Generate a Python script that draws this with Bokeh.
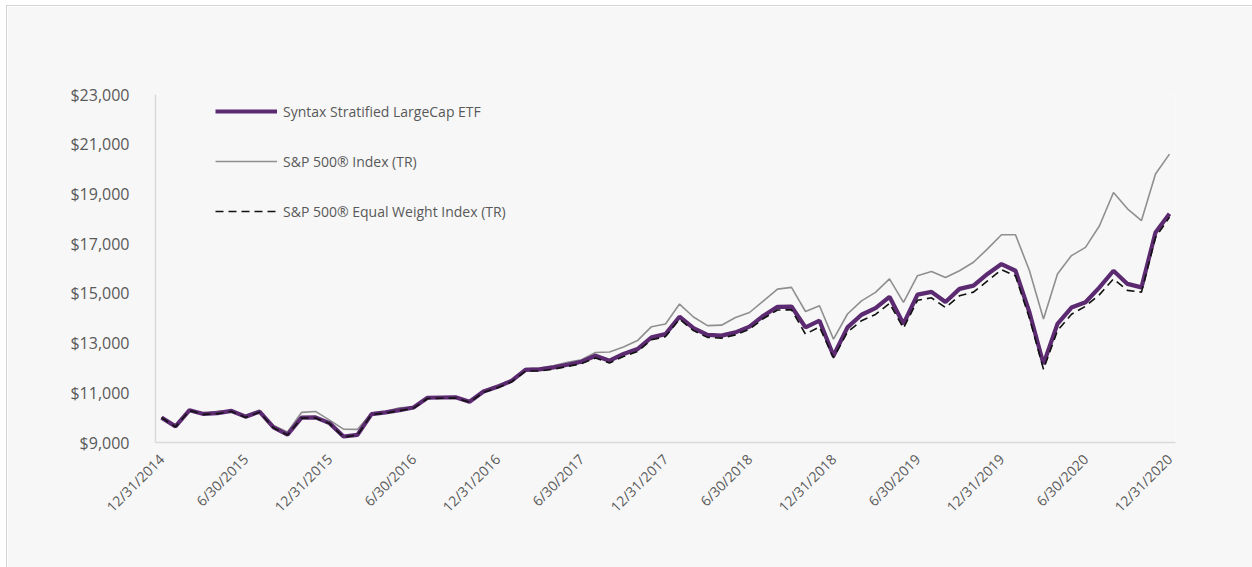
from math import pi
from bokeh.plotting import figure
from bokeh.models import Range1d, FixedTicker, NumeralTickFormatter, Legend, LegendItem
from bokeh.embed import file_html
from bokeh.resources import INLINE

tick_labels = ["12/31/2014", "6/30/2015", "12/31/2015", "6/30/2016", "12/31/2016",
               "6/30/2017", "12/31/2017", "6/30/2018", "12/31/2018", "6/30/2019",
               "12/31/2019", "6/30/2020", "12/31/2020"]

etf = [10000, 9650, 10300, 10150, 10180, 10270, 10040, 10240, 9610, 9320,
       10000, 10010, 9780, 9240, 9310, 10140, 10210, 10300, 10410, 10800,
       10810, 10820, 10640, 11050, 11240, 11480, 11920, 11940, 12020, 12130,
       12250, 12490, 12290, 12560, 12760, 13230, 13360, 14060, 13600, 13330,
       13300, 13430, 13660, 14100, 14460, 14470, 13630, 13900, 12490, 13630,
       14140, 14410, 14860, 13770, 14950, 15060, 14650, 15180, 15310, 15780,
       16180, 15910, 14230, 12160, 13770, 14430, 14640, 15240, 15910, 15380,
       15240, 17450, 18200]

sp500 = [10000, 9700, 10270, 10170, 10260, 10290, 10100, 10300, 9680, 9420,
         10210, 10250, 9900, 9540, 9530, 10180, 10250, 10400, 10430, 10820,
         10830, 10850, 10650, 11080, 11300, 11520, 11980, 12000, 12090, 12230,
         12330, 12620, 12640, 12840, 13100, 13660, 13770, 14570, 14050, 13700,
         13720, 14030, 14230, 14700, 15170, 15240, 14270, 14500, 13160, 14170,
         14700, 15040, 15580, 14640, 15710, 15880, 15640, 15910, 16250, 16790,
         17360, 17360, 15910, 13970, 15780, 16520, 16850, 17720, 19060, 18400,
         17930, 19800, 20600]

equal_weight = [10000, 9630, 10290, 10130, 10160, 10250, 10010, 10220, 9590, 9300,
                9980, 9990, 9760, 9220, 9300, 10120, 10190, 10280, 10380, 10770,
                10780, 10790, 10620, 11020, 11200, 11440, 11870, 11880, 11950, 12060,
                12170, 12400, 12200, 12460, 12660, 13130, 13260, 13960, 13500, 13230,
                13200, 13330, 13560, 13990, 14330, 14340, 13360, 13650, 12400, 13450,
                13900, 14150, 14600, 13600, 14720, 14820, 14430, 14900, 15050, 15500,
                15950, 15700, 14000, 11950, 13500, 14160, 14480, 14950, 15580, 15120,
                15050, 17250, 18060]

y_ticks = [9000, 11000, 13000, 15000, 17000, 19000, 21000, 23000]

months = list(range(len(etf)))
label_ticks = list(range(0, len(etf), 6))

BG = "#f7f7f7"
FONT = "Open Sans"
TXT = "#595959"

p = figure(width=1245, height=561, output_backend="svg", toolbar_location=None,
           x_range=Range1d(-0.43, 72.43), y_range=Range1d(9000, 23000),
           min_border_left=148, min_border_right=77, min_border_top=88,
           min_border_bottom=125, background_fill_color=BG, border_fill_color=BG)
p.outline_line_color = None
p.xgrid.visible = False
p.ygrid.visible = False

r_sp = p.line(months, sp500, line_color="#8f8f8f", line_width=1.6)
r_etf = p.line(months, etf, line_color="#5b2a70", line_width=4.2)
r_ew = p.line(months, equal_weight, line_color="#111111", line_width=1.6, line_dash="8 5")

p.xaxis.ticker = FixedTicker(ticks=label_ticks)
p.xaxis.major_label_overrides = {t: lab for t, lab in zip(label_ticks, tick_labels)}
p.xaxis.major_label_orientation = pi / 4
p.yaxis.ticker = FixedTicker(ticks=y_ticks)
p.yaxis.formatter = NumeralTickFormatter(format="$0,0")

for ax in (p.xaxis[0], p.yaxis[0]):
    ax.axis_line_color = "#d9d9d9"
    ax.axis_line_width = 1.5
    ax.major_tick_line_color = None
    ax.minor_tick_line_color = None
    ax.major_label_text_font = FONT
    ax.major_label_text_color = TXT
p.xaxis.major_label_text_font_size = "14px"
p.xaxis.major_label_standoff = 8
p.yaxis.major_label_text_font_size = "16px"
p.yaxis.major_label_standoff = 20

legend = Legend(items=[
    LegendItem(label="Syntax Stratified LargeCap ETF", renderers=[r_etf]),
    LegendItem(label="S&P 500® Index (TR)", renderers=[r_sp]),
    LegendItem(label="S&P 500® Equal Weight Index (TR)", renderers=[r_ew]),
], location=(60, 221))
legend.label_text_font = FONT
legend.label_text_font_size = "14px"
legend.label_text_color = TXT
legend.glyph_width = 62
legend.glyph_height = 20
legend.label_height = 20
legend.spacing = 30
legend.padding = 0
legend.margin = 0
legend.label_standoff = 6
legend.background_fill_alpha = 0
legend.border_line_color = None
p.add_layout(legend)

p.styles = {"margin-left": "7px", "margin-top": "6px", "outline": "1px solid #d4d4d4"}

open("out.html", "w").write(file_html(p, INLINE))
